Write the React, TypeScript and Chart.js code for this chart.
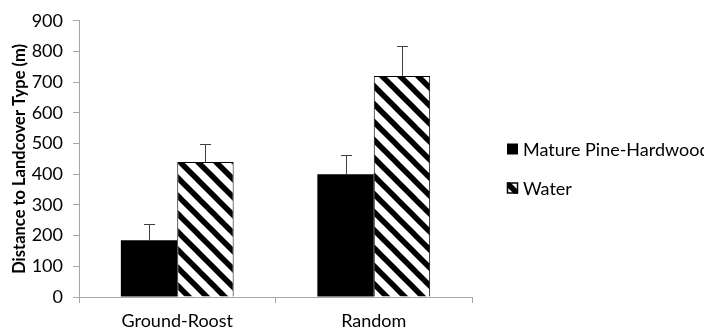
import React, { useEffect, useRef } from "react";
import { Chart, registerables } from "chart.js";

Chart.register(...registerables);

const categories = ["Ground-Roost", "Random"];
const seriesNames = ["Mature Pine-Hardwood", "Water"];
const maturePine = [185, 400];
const maturePineErr = [52, 64];
const water = [440, 720];
const waterErr = [58, 97];
const yMin = 0;
const yMax = 900;
const yStep = 100;
const yTitle = "Distance to Landcover Type (m)";

const FONT = "Lato, 'Open Sans', sans-serif";

function makeHatch(): CanvasPattern | string {
  const s = 18;
  const c = document.createElement("canvas");
  c.width = s;
  c.height = s;
  const g = c.getContext("2d");
  if (!g) return "#fff";
  g.fillStyle = "#fff";
  g.fillRect(0, 0, s, s);
  g.strokeStyle = "#000";
  g.lineWidth = 5.5;
  for (const o of [-s, 0, s]) {
    g.beginPath();
    g.moveTo(o - 2, -2);
    g.lineTo(o + s + 2, s + 2);
    g.stroke();
  }
  const p = g.createPattern(c, "repeat");
  return p || "#fff";
}

export default function App() {
  const ref = useRef<HTMLCanvasElement | null>(null);

  useEffect(() => {
    document.body.style.margin = "0";
    const canvas = ref.current;
    if (!canvas) return;
    const hatch = makeHatch();
    const errors = [maturePineErr, waterErr];

    const errorBarPlugin = {
      id: "errorBars",
      afterDatasetsDraw(chart: any) {
        const ctx = chart.ctx;
        const y = chart.scales.y;
        ctx.save();
        ctx.strokeStyle = "#404040";
        ctx.lineWidth = 1;
        chart.data.datasets.forEach((ds: any, di: number) => {
          const meta = chart.getDatasetMeta(di);
          meta.data.forEach((bar: any, i: number) => {
            const v = ds.data[i];
            const top = y.getPixelForValue(v + errors[di][i]);
            const x = Math.round(bar.x) + 0.5;
            const yb = Math.round(bar.y);
            const yt = Math.round(top) + 0.5;
            ctx.beginPath();
            ctx.moveTo(x, yb);
            ctx.lineTo(x, yt);
            ctx.moveTo(x - 5.5, yt);
            ctx.lineTo(x + 5.5, yt);
            ctx.stroke();
          });
        });
        ctx.restore();
      },
    };

    const titleAndLegendPlugin = {
      id: "customLegend",
      afterDraw(chart: any) {
        const ctx = chart.ctx;
        const area = chart.chartArea;
        ctx.save();
        // y-axis title
        ctx.save();
        ctx.translate(24.5, (area.top + area.bottom) / 2);
        ctx.rotate(-Math.PI / 2);
        ctx.font = `bold 16.5px ${FONT}`;
        ctx.textAlign = "center";
        ctx.textBaseline = "alphabetic";
        ctx.fillStyle = "#000";
        ctx.fillText(yTitle, 0, 0);
        ctx.restore();
        // legend
        ctx.font = `18px ${FONT}`;
        ctx.textBaseline = "middle";
        const rows = [149, 188];
        chart.data.datasets.forEach((ds: any, di: number) => {
          const cy = rows[di];
          const bx = 507;
          const size = 11;
          ctx.fillStyle = ds.backgroundColor;
          ctx.fillRect(bx, cy - size / 2, size, size);
          if (di === 1) {
            ctx.strokeStyle = "#000";
            ctx.lineWidth = 1.5;
            ctx.strokeRect(bx + 0.5, cy - size / 2 + 0.5, size - 1, size - 1);
          }
          ctx.fillStyle = "#000";
          ctx.fillText(ds.label, 523, cy + 1);
        });
        ctx.restore();
      },
    };

    const chart = new Chart(canvas, {
      type: "bar",
      data: {
        labels: categories,
        datasets: [
          {
            label: seriesNames[0],
            data: maturePine,
            backgroundColor: "#000",
            borderWidth: 0,
          },
          {
            label: seriesNames[1],
            data: water,
            backgroundColor: hatch as any,
            borderColor: "#000",
            borderWidth: 1,
          },
        ],
      },
      options: {
        animation: false,
        responsive: false,
        maintainAspectRatio: false,
        layout: { padding: { left: 0, right: 232, top: 15, bottom: 0 } },
        datasets: { bar: { categoryPercentage: 0.574, barPercentage: 1 } },
        plugins: {
          legend: { display: false },
          tooltip: { enabled: false },
        },
        scales: {
          x: {
            afterFit(scale: any) {
              scale.height = 36;
            },
            grid: {
              display: true,
              drawOnChartArea: false,
              drawTicks: true,
              tickLength: 6,
              color: "#a6a6a6",
              offset: true,
            },
            border: { display: true, color: "#a6a6a6" },
            ticks: {
              color: "#000",
              font: { family: FONT, size: 18 },
              padding: 7,
            },
          },
          y: {
            min: yMin,
            max: yMax,
            afterFit(scale: any) {
              scale.width = 79;
            },
            grid: {
              display: true,
              drawOnChartArea: false,
              drawTicks: true,
              tickLength: 6,
              color: "#a6a6a6",
            },
            border: { display: true, color: "#a6a6a6" },
            ticks: {
              stepSize: yStep,
              color: "#000",
              font: { family: FONT, size: 18 },
              padding: 10,
            },
          },
        },
      },
      plugins: [errorBarPlugin, titleAndLegendPlugin],
    });
    return () => chart.destroy();
  }, []);

  return (
    <div style={{ width: 704, height: 333 }}>
      <canvas ref={ref} width={704} height={333} style={{ display: "block", width: 704, height: 333 }} />
    </div>
  );
}
